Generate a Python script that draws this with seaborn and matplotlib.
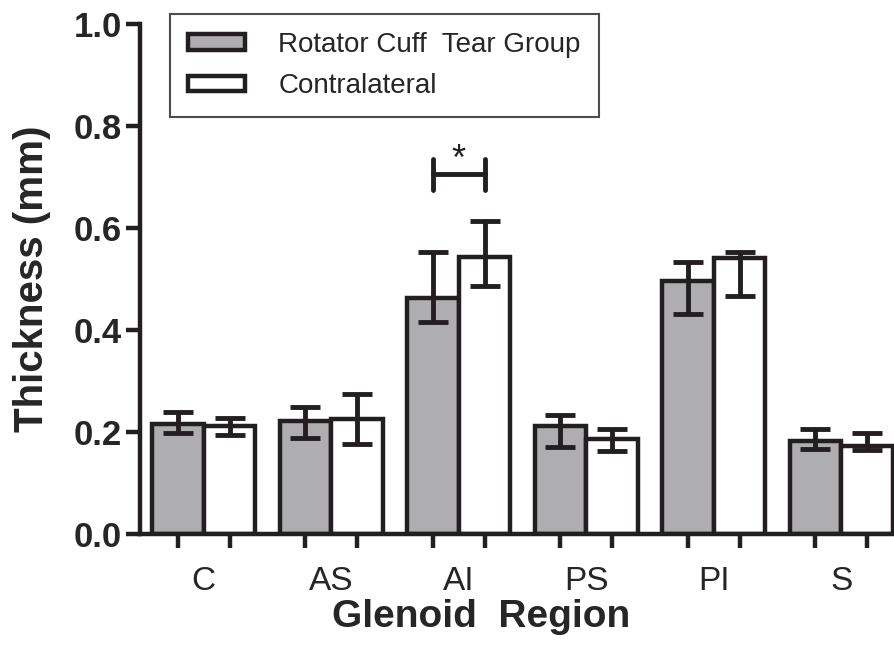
import numpy as np
import pandas as pd
import matplotlib as mpl
mpl.use('Agg')
import matplotlib.pyplot as plt
import seaborn as sns

# values (mm)
regions = ['C', 'AS', 'AI', 'PS', 'PI', 'S']
groups = ['Rotator Cuff  Tear Group', 'Contralateral']
tear_mean = [0.216, 0.222, 0.463, 0.211, 0.496, 0.182]
tear_lo = [0.198, 0.189, 0.416, 0.171, 0.431, 0.167]
tear_hi = [0.239, 0.249, 0.553, 0.233, 0.534, 0.206]
contra_mean = [0.211, 0.226, 0.543, 0.186, 0.541, 0.172]
contra_lo = [0.194, 0.176, 0.486, 0.163, 0.467, 0.165]
contra_hi = [0.227, 0.275, 0.614, 0.206, 0.553, 0.198]
yticks = [0.0, 0.2, 0.4, 0.6, 0.8, 1.0]

sns.set_style('ticks')
plt.rcParams['font.family'] = ['Liberation Sans', 'DejaVu Sans']

df = pd.DataFrame({
    'Region': regions * 2,
    'Group': [groups[0]] * 6 + [groups[1]] * 6,
    'Thickness': tear_mean + contra_mean,
})

ink = '#231F20'
gray = '#ADAEB2'

fig = plt.figure(figsize=(8.95, 6.54), dpi=100)
ax = fig.add_axes([0.1564, 0.1835, 0.842, 0.7798])

sns.barplot(data=df, x='Region', y='Thickness', hue='Group', order=regions,
            hue_order=groups, palette=[gray, 'white'], errorbar=None,
            width=0.81, linewidth=3.2, edgecolor=ink, ax=ax, zorder=2)

# error bars at the bar centres
bars = list(ax.containers)
means = [tear_mean, contra_mean]
los = [tear_lo, contra_lo]
his = [tear_hi, contra_hi]
centres = []
for k, cont in enumerate(bars):
    xs = [p.get_x() + p.get_width() / 2 for p in cont.patches]
    centres += xs
    m = np.array(means[k])
    yerr = [m - np.array(los[k]), np.array(his[k]) - m]
    ax.errorbar(xs, m, yerr=yerr, fmt='none', ecolor=ink, elinewidth=3.5,
                capsize=10.5, capthick=3.5, zorder=3)

# significance bracket over AI
x1 = bars[0].patches[2].get_x() + bars[0].patches[2].get_width() / 2
x2 = bars[1].patches[2].get_x() + bars[1].patches[2].get_width() / 2
ax.plot([x1, x2], [0.706, 0.706], color=ink, lw=3.5, solid_capstyle='round')
ax.plot([x1, x1], [0.675, 0.735], color=ink, lw=3.5, solid_capstyle='round')
ax.plot([x2, x2], [0.675, 0.735], color=ink, lw=3.5, solid_capstyle='round')
ax.text((x1 + x2) / 2, 0.732, '*', ha='center', va='center', fontsize=26,
        color=ink)

ax.set_xlim(-0.5, 5.41)
ax.set_ylim(0, 1.0)
ax.set_yticks(yticks)
ax.set_yticklabels([f'{t:.1f}' for t in yticks], fontsize=25, fontweight='bold')
ax.set_xticks(sorted(centres))
ax.set_xticklabels([])
ax.set_xticks(range(len(regions)), minor=True)
ax.set_xticklabels(regions, minor=True, fontsize=24)
ax.tick_params(axis='x', which='minor', length=0, pad=23)
ax.tick_params(axis='both', which='major', length=10, width=3.2, color=ink)
ax.tick_params(axis='y', pad=3)

for s in ['top', 'right']:
    ax.spines[s].set_visible(False)
for s in ['left', 'bottom']:
    ax.spines[s].set_linewidth(3.2)
    ax.spines[s].set_color(ink)

ax.set_xlabel('Glenoid  Region', fontsize=28, fontweight='bold')
ax.xaxis.set_label_coords(0.453, -0.128)
ax.set_ylabel('Thickness (mm)', fontsize=29, fontweight='bold')
ax.yaxis.set_label_coords(-0.118, 0.5)

leg = ax.legend(loc='upper left', bbox_to_anchor=(0.0398, 1.0196),
                borderaxespad=0, fontsize=20, frameon=True, fancybox=False,
                edgecolor=ink, handlelength=2.05, handleheight=0.5,
                borderpad=0.65, labelspacing=0.55, handletextpad=1.2)
leg.get_frame().set_linewidth(1.5)
for h in leg.legend_handles:
    h.set_linewidth(3.2)

fig.savefig('out.png', dpi=100)
